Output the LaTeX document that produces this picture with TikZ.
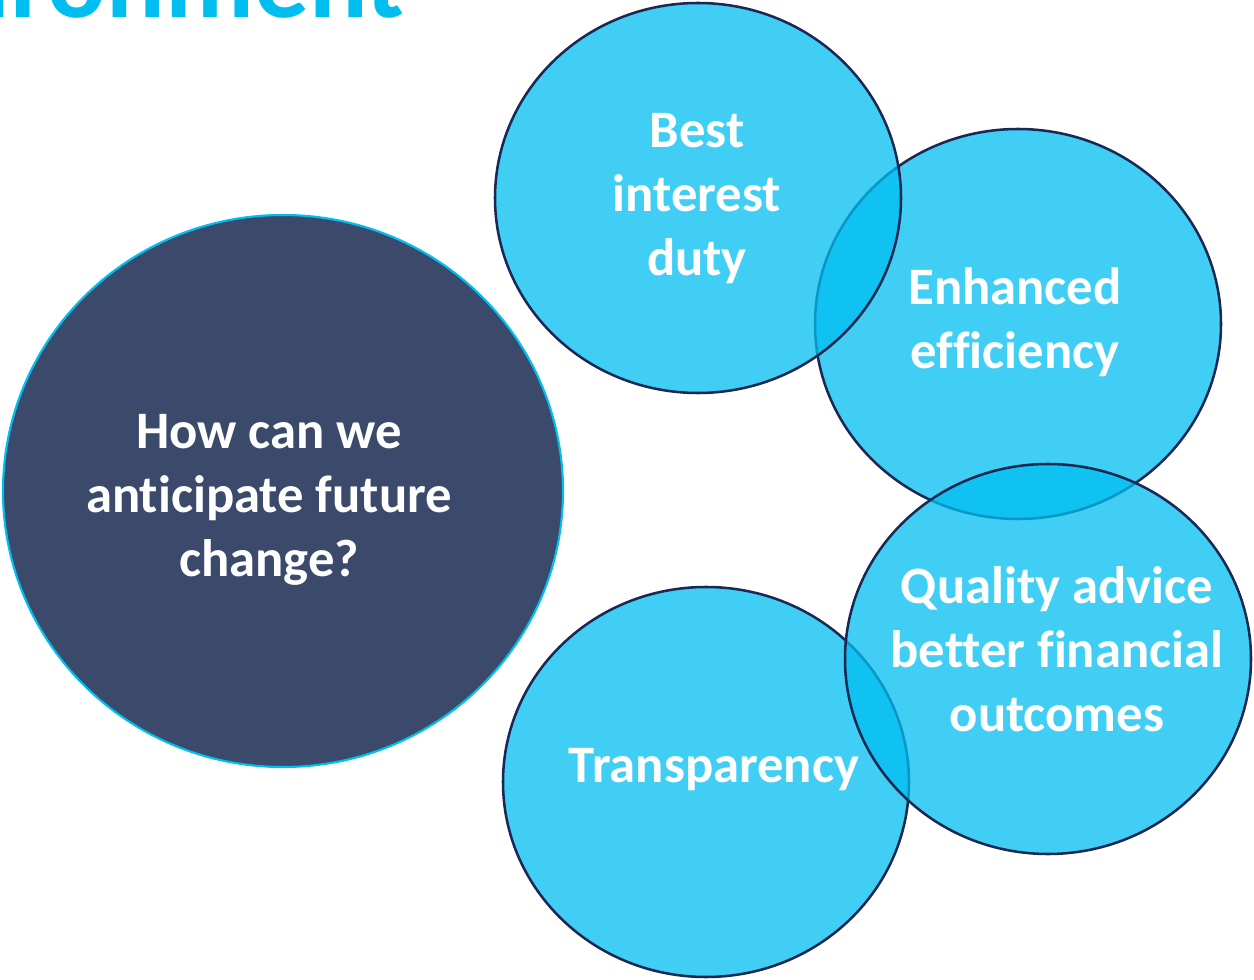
\documentclass[tikz,border=0pt]{standalone}
\usepackage{fontspec}
\setmainfont{Carlito}[Ligatures={NoCommon}]
\usepackage{tikz}
\usetikzlibrary{shapes.geometric,positioning}

\definecolor{navyfill}{RGB}{59,74,107}
\definecolor{bubble}{RGB}{0,190,240}
\definecolor{rim}{RGB}{28,40,84}

\begin{document}
\begin{tikzpicture}[x=0.75pt,y=-0.75pt,
  big/.style={draw=bubble, line width=1.6pt, fill=navyfill, ellipse, inner sep=0pt,
              minimum width=420pt, minimum height=414pt},
  bubbleshape/.style={draw=rim, line width=1.9pt, fill=bubble, fill opacity=0.75, ellipse,
              inner sep=0pt, minimum width=304.5pt, minimum height=292.5pt},
  lbl/.style={text=white, font=\fontsize{39.5}{48}\selectfont\bfseries, align=center, inner sep=0pt}]
  \useasboundingbox (0,0) rectangle (1254,980);

  % title cut at the top
  \node[anchor=base east, inner sep=0pt, text=bubble, font=\fontsize{82}{90}\selectfont\bfseries]
    (title) at (405,18) {environment};

  % circles
  \node[big] (Q) at (283,491) {};
  \node[bubbleshape] (E) at (1018,324) {};
  \node[bubbleshape] (T) at (706,782) {};
  \node[bubbleshape] (O) at (1048,659) {};
  \node[bubbleshape] (B) at (698,198) {};

  % texts
  \node[lbl] (Qt) at ([shift={(-14,9)}]Q.center) {How can we\\anticipate future\\change?};
  \node[lbl] (Bt) at ([shift={(-1,1)}]B.center) {Best\\interest\\duty};
  \node[lbl] (Et) at ([shift={(-3,-2)}]E.center) {Enhanced\\efficiency};
  \node[lbl] (Ot) at ([shift={(9,-10)}]O.center) {Quality advice\\better financial\\outcomes};
  \node[lbl] (Tt) at ([shift={(8,-12)}]T.center) {Transparency};
\end{tikzpicture}
\end{document}
